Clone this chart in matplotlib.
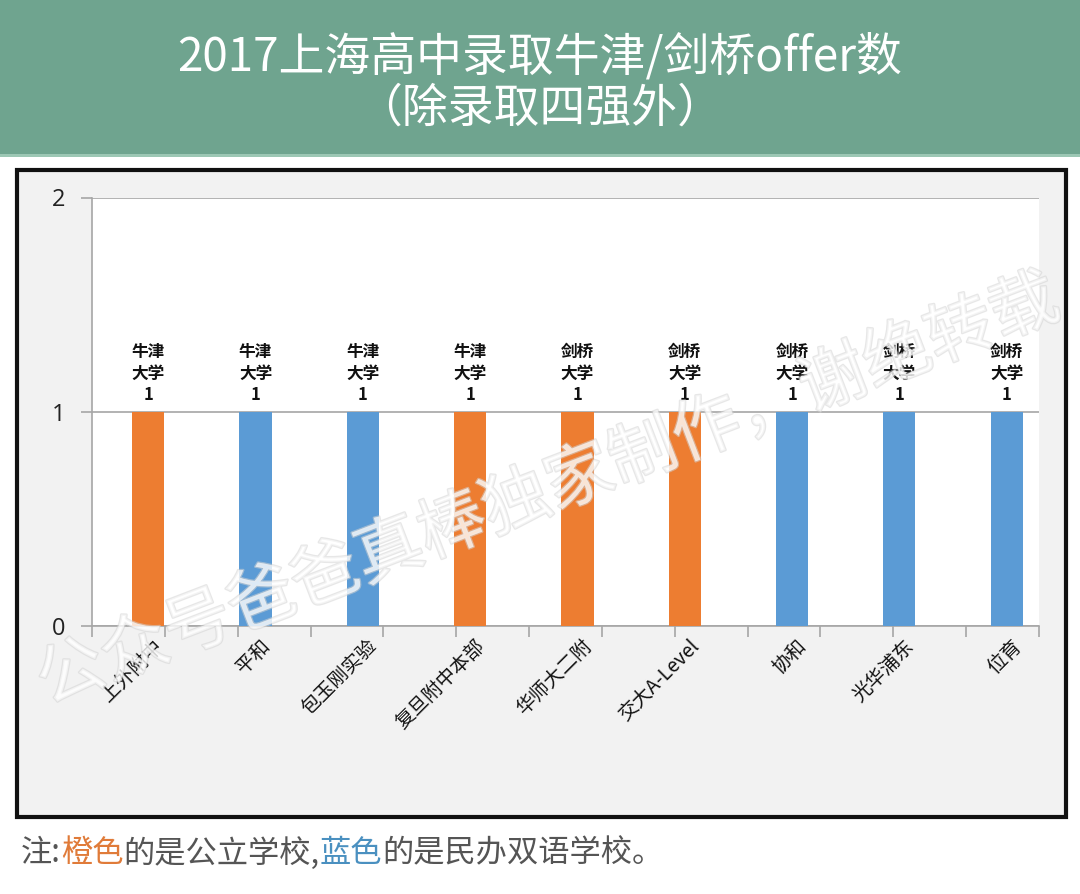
import matplotlib
matplotlib.use("Agg")
import matplotlib.pyplot as plt
from matplotlib.patches import Rectangle
from matplotlib.offsetbox import TextArea, HPacker, AnchoredOffsetbox
from matplotlib.transforms import ScaledTranslation
import matplotlib.patheffects as pe
import numpy as np

plt.rcParams['font.family'] = ['Noto Sans CJK SC', 'DejaVu Sans']

schools = ["上外附中", "平和", "包玉刚实验", "复旦附中本部", "华师大二附",
           "交大A-Level", "协和", "光华浦东", "位育"]
universities = ["牛津大学", "牛津大学", "牛津大学", "牛津大学", "剑桥大学",
                "剑桥大学", "剑桥大学", "剑桥大学", "剑桥大学"]
offers = [1, 1, 1, 1, 1, 1, 1, 1, 1]
school_type = ["公立", "民办", "民办", "公立", "公立", "公立", "民办", "民办", "民办"]
y_ticks = [0, 1, 2]

ORANGE = "#ED7D31"
BLUE = "#5B9BD5"
W, H = 1080, 894
fig = plt.figure(figsize=(W / 100, H / 100), dpi=100)
fig.patch.set_facecolor("white")

def fx(x): return x / W
def fy(y): return 1 - y / H

# header band
fig.patches.append(Rectangle((0, fy(155)), 1, 155 / H, transform=fig.transFigure,
                             facecolor="#6FA48F", edgecolor="none", zorder=0))
fig.patches.append(Rectangle((0, fy(157)), 1, 3 / H, transform=fig.transFigure,
                             facecolor="#9CC7B4", edgecolor="none", zorder=0))
fig.text(0.5, fy(57), "2017上海高中录取牛津/剑桥offer数", color="white",
         fontsize=33, fontweight="medium", ha="center", va="center")
fig.text(0.5, fy(108), "（除录取四强外）", color="white",
         fontsize=33, fontweight="medium", ha="center", va="center")

# chart frame
fig.patches.append(Rectangle((fx(17), fy(817)), fx(1066 - 17), (817 - 170) / H,
                             transform=fig.transFigure, facecolor="#F2F2F2",
                             edgecolor="#111111", linewidth=3, zorder=0))

ax = fig.add_axes([fx(92), fy(626), fx(1039 - 92), (626 - 197.5) / H], zorder=2)
ax.set_facecolor("white")
x = np.arange(len(schools))
colors = [ORANGE if t == "公立" else BLUE for t in school_type]
ax.bar(x, offers, width=0.3, color=colors, zorder=3)
xmin, xmax = -0.524, len(schools) - 0.698
ax.set_xlim(xmin, xmax)
ax.set_ylim(0, 2)
ax.set_yticks(y_ticks)
ax.tick_params(axis="y", length=8, color="#A6A6A6", width=1.2, pad=11)
ax.set_yticklabels([str(v) for v in y_ticks], fontsize=17, color="#222222",
                   family=["Open Sans", "DejaVu Sans"], va="center")
shift = ScaledTranslation(0, -3 / 100, fig.dpi_scale_trans)
for lbl in ax.get_yticklabels():
    lbl.set_transform(lbl.get_transform() + shift)
ax.yaxis.grid(True, color="#A6A6A6", linewidth=1.2, zorder=1)
ax.set_axisbelow(True)
for s in ["top", "right"]:
    ax.spines[s].set_visible(False)
for s in ["left", "bottom"]:
    ax.spines[s].set_color("#A6A6A6")
    ax.spines[s].set_linewidth(1.2)
# the original axis carries 13 evenly spaced tick intervals
ax.set_xticks(np.linspace(xmin, xmax, 14))
ax.set_xticklabels([])
ax.tick_params(axis="x", length=8, color="#A6A6A6", width=1.2)
for i, name in enumerate(schools):
    ax.text(i + 0.04, -0.045, name, rotation=45, rotation_mode="anchor",
            ha="right", va="top", fontsize=14, color="#111111",
            transform=ax.transData, clip_on=False)
for i, (u, v) in enumerate(zip(universities, offers)):
    ax.text(i, v + 0.035, f"{u[:2]}\n{u[2:]}\n{v}", ha="center", va="bottom",
            fontsize=12, fontweight="bold", color="#111111", linespacing=1.25)

# watermark
fig.text(fx(548), fy(492), "公众号爸爸真棒独家制作，谢绝转载", fontsize=49,
         rotation=21, ha="center", va="center", color="white", alpha=0.55,
         path_effects=[pe.withStroke(linewidth=1.8, foreground="#D4D4D4")], zorder=10)

# footer
parts = [("注:", "#555555"), ("橙色", "#E07B39"), ("的是公立学校,", "#555555"),
         ("蓝色", "#4A90C0"), ("的是民办双语学校。", "#555555")]
boxes = [TextArea(t, textprops=dict(color=c, fontsize=22.5)) for t, c in parts]
pack = HPacker(children=boxes, align="baseline", pad=0, sep=0)
ab = AnchoredOffsetbox(loc="center left", child=pack, pad=0, frameon=False,
                       bbox_to_anchor=(fx(14), fy(853)), bbox_transform=fig.transFigure)
fig.add_artist(ab)

fig.savefig("out.png", dpi=100, facecolor="white")
